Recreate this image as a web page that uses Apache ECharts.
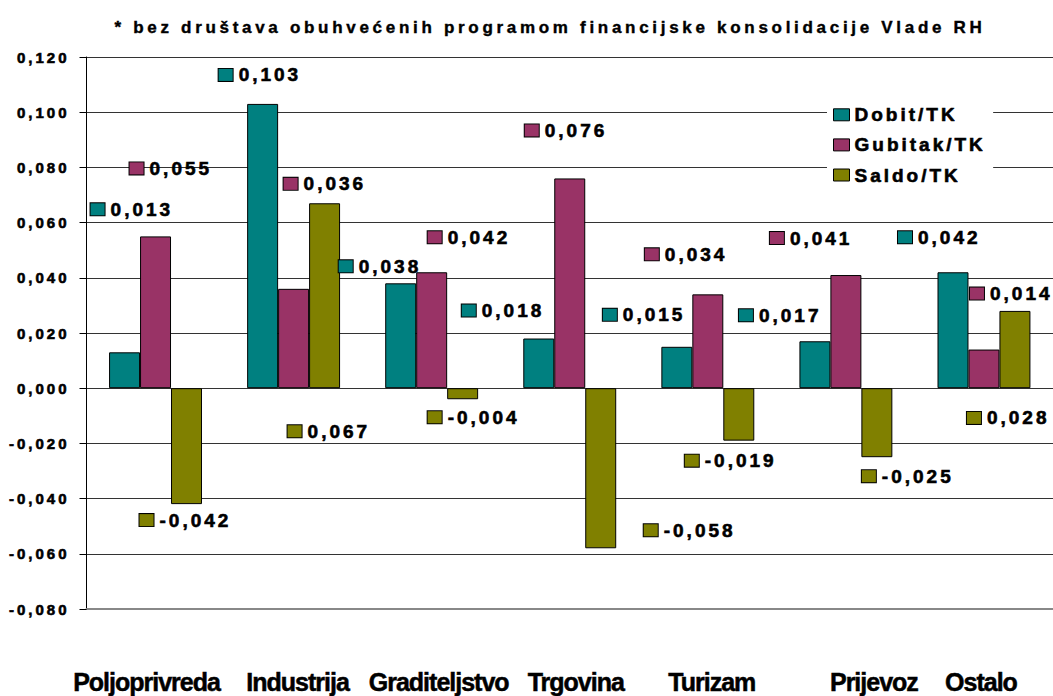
<!DOCTYPE html>
<html><head><meta charset="utf-8">
<script src="https://cdn.jsdelivr.net/npm/echarts@6/dist/echarts.min.js"></script>
<style>
html,body{margin:0;padding:0;background:#fff;}
#c{width:1053px;height:696px;}
text[style*="19px"]{letter-spacing:3px;}
text[style*="15px"]{letter-spacing:3px;}
text[style*="17px"]{letter-spacing:3.7px;}
text[style*="25px"]{letter-spacing:-1px;}
</style></head><body><div id="c"></div>
<script>
const titleText = '* bez društava obuhvećenih programom financijske konsolidacije Vlade RH';
const categories = ['Poljoprivreda', 'Industrija', 'Graditeljstvo', 'Trgovina', 'Turizam', 'Prijevoz', 'Ostalo'];
const seriesNames = ['Dobit/TK', 'Gubitak/TK', 'Saldo/TK'];
const dobit   = [0.013, 0.103, 0.038, 0.018, 0.015, 0.017, 0.042];
const gubitak = [0.055, 0.036, 0.042, 0.076, 0.034, 0.041, 0.014];
const saldo   = [-0.042, 0.067, -0.004, -0.058, -0.019, -0.025, 0.028];
const yMin = -0.08, yMax = 0.12, yStep = 0.02;

// layout only: label placement (px offsets from the bar's value end, centre of bar)
const dobitLabelOffsets   = [[-34,-143],[-44,-29],[-62,-17],[-77,-28],[-74,-32],[-76,-26],[-55,-35]];
const gubitakLabelOffsets = [[-26,-68],[-10,-105],[-4,-35],[-45,-48],[-63,-40],[-76,-37],[-14,-56]];
const saldoLabelOffsets   = [[-47,16],[-37,228],[-35,18],[43,-18],[-54,20],[-15,19],[-48,107]];
// layout only: horizontal shift of each category name (px)
const categoryLabelShift  = [-9, 4, 7, 6, 4, 28, -3];

const colors = ['#008080', '#993366', '#808000'];
const fontMain = "'Liberation Sans', Arial, sans-serif";
const heavy = { textBorderColor: '#000', textBorderWidth: 0.6 };

function fmt(v) { if (Math.abs(v) < 1e-9) v = 0; return v.toFixed(3).replace('.', ','); }

function makeSeries(name, values, color, offsets) {
  return {
    name: name, type: 'bar', data: values,
    barGap: '0%', barCategoryGap: '32.7%',
    itemStyle: { color: color, borderColor: '#000', borderWidth: 1 },
    label: {
      show: true, position: 'top', fontSize: 19, fontWeight: 'bold', fontFamily: fontMain,
      formatter: function (p) { return '{s|}{t|' + fmt(p.value) + '}'; },
      rich: {
        s: { width: 14, height: 12, backgroundColor: color, borderColor: '#000', borderWidth: 1, verticalAlign: 'middle' },
        t: Object.assign({ fontSize: 19, fontWeight: 'bold', fontFamily: fontMain, color: '#000', padding: [0, 0, 0, 6], verticalAlign: 'middle' }, heavy)
      }
    },
    labelLayout: function (params) {
      const r = params.rect;
      const v = values[params.dataIndex];
      const o = offsets[params.dataIndex];
      const cx = r.x + r.width / 2;
      const vy = v >= 0 ? r.y : r.y + r.height;
      return { x: cx + o[0], y: vy + o[1], align: 'left', verticalAlign: 'middle' };
    }
  };
}

const categoryData = categories.map(function (c, i) {
  const s = categoryLabelShift[i];
  return { value: c, textStyle: { padding: s >= 0 ? [0, 0, 0, 2 * s] : [0, -2 * s, 0, 0] } };
});

const chart = echarts.init(document.getElementById('c'), null, { renderer: 'svg' });
chart.setOption({
  animation: false,
  backgroundColor: '#fff',
  title: {
    text: titleText, left: 550, top: 19, padding: 0, textAlign: 'center',
    textStyle: { fontSize: 17, fontWeight: 'bold', fontFamily: fontMain, color: '#000', textBorderColor: '#000', textBorderWidth: 0.4 }
  },
  legend: {
    data: seriesNames, orient: 'vertical', left: 827, top: 100,
    itemWidth: 16, itemHeight: 12, itemGap: 10.5, padding: [5, 37, 5, 6],
    backgroundColor: '#fff', icon: 'rect', selectedMode: false,
    itemStyle: { borderColor: '#000', borderWidth: 1 },
    textStyle: Object.assign({ fontSize: 19, fontWeight: 'bold', fontFamily: fontMain, color: '#000', lineHeight: 19 }, heavy)
  },
  grid: { left: 86.5, right: -1.2, top: 57, bottom: 87, containLabel: false },
  xAxis: {
    type: 'category', data: categoryData, position: 'bottom',
    axisLine: { onZero: false, lineStyle: { color: '#888', width: 2 } },
    axisTick: { show: false },
    axisLabel: { interval: 0, margin: 60, fontSize: 25, fontWeight: 'bold', fontFamily: fontMain, color: '#000', textBorderColor: '#000', textBorderWidth: 0.5 }
  },
  yAxis: {
    type: 'value', min: yMin, max: yMax, interval: yStep,
    axisLine: { show: true, lineStyle: { color: '#000', width: 1 } },
    axisTick: { show: true, length: 7, lineStyle: { color: '#000' } },
    axisLabel: Object.assign({ margin: 17, fontSize: 15, fontWeight: 'bold', fontFamily: fontMain, color: '#000', formatter: fmt }, heavy),
    splitLine: { show: true, lineStyle: { color: '#333', width: 1 } }
  },
  series: [
    makeSeries(seriesNames[0], dobit, colors[0], dobitLabelOffsets),
    makeSeries(seriesNames[1], gubitak, colors[1], gubitakLabelOffsets),
    makeSeries(seriesNames[2], saldo, colors[2], saldoLabelOffsets)
  ]
});
</script>
</body></html>
